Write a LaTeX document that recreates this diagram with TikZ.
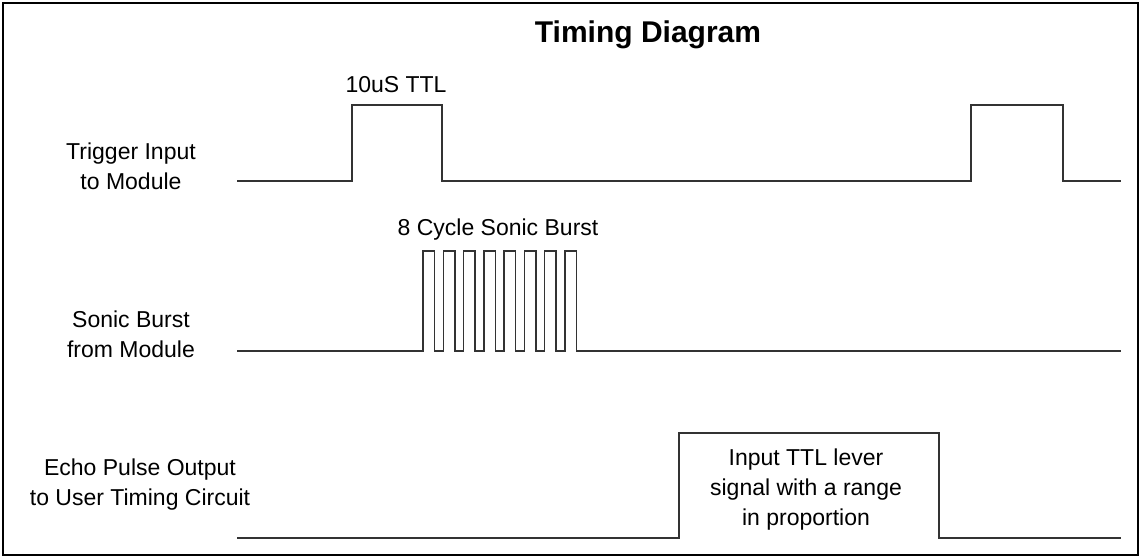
\documentclass[tikz,border=0pt]{standalone}
\usepackage{fontspec}
\setmainfont{Liberation Sans}
\begin{document}
\begin{tikzpicture}[x=1pt, y=-1pt, line join=miter,
	sig/.style={black!80, line width=1.5pt},
	lbl/.style={font=\fontsize{23}{30}\selectfont, align=center, anchor=base, inner sep=0pt}]
	\useasboundingbox (0,0) rectangle (1141,558);
	\draw[line width=2.5pt] (3,3) rectangle (1138,555);
	\def\xa{237} \def\xb{1121}
	\def\yt{181} \def\ys{351} \def\ye{538}
	% trigger
	\draw[sig] (\xa,\yt) -- (352,\yt) -- (352,105) -- (442,105) -- (442,\yt) -- (971,\yt)
		-- (971,105) -- (1063,105) -- (1063,\yt) -- (\xb,\yt);
	% 8 cycle burst
	\draw[sig] (\xa,\ys) \foreach \k in {0,...,7} {
		-- ({423+20.25*\k},\ys) -- ({423+20.25*\k},251) -- ({434.5+20.25*\k},251) -- ({434.5+20.25*\k},\ys)}
		-- (\xb,\ys);
	% echo
	\draw[sig] (\xa,\ye) -- (679,\ye) -- (679,433) -- (939,433) -- (939,\ye) -- (\xb,\ye);
	\node[lbl, font=\fontsize{30}{34}\bfseries\selectfont] (title) at (648,42) {Timing Diagram};
	\node[lbl] (ttl) at (396,92) {10uS TTL};
	\node[lbl] (cyc) at (498,235) {8 Cycle Sonic Burst};
	\node[lbl] (trig) at (131,189) {Trigger Input\\to Module};
	\node[lbl] (burst) at (131,357) {Sonic Burst\\from Module};
	\node[lbl] (echo) at (140,505) {Echo Pulse Output\\to User Timing Circuit};
	\node[lbl] (range) at (806,525) {Input TTL lever\\signal with a range\\in proportion};
\end{tikzpicture}
\end{document}
